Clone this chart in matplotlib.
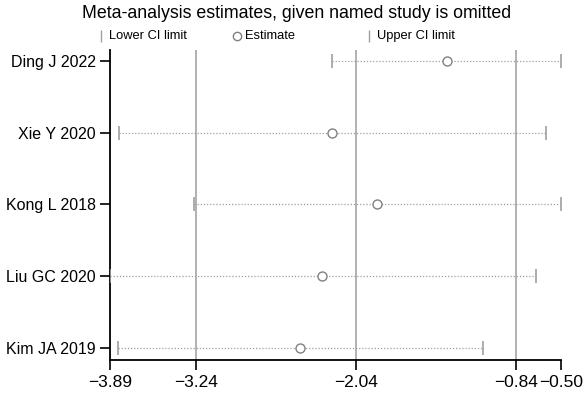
import matplotlib
matplotlib.use('Agg')
import matplotlib.pyplot as plt
from matplotlib.lines import Line2D

plt.rcParams['font.family'] = ['Liberation Sans', 'DejaVu Sans']

studies = ['Kim JA 2019', 'Liu GC 2020', 'Kong L 2018', 'Xie Y 2020', 'Ding J 2022']
estimate = [-2.46, -2.30, -1.88, -2.22, -1.36]
lower = [-3.83, -3.89, -3.26, -3.82, -2.22]
upper = [-1.09, -0.69, -0.50, -0.61, -0.50]
ref_lines = [-3.24, -2.04, -0.84]
xticks = [-3.89, -3.24, -2.04, -0.84, -0.50]
legend_labels = ['Lower CI limit', 'Estimate', 'Upper CI limit']

W, H = 586, 394
fig = plt.figure(figsize=(W / 100, H / 100), dpi=100)
ax = fig.add_axes([110 / W, 1 - 360 / H, 451 / W, 310 / H])

ypos = list(range(1, len(studies) + 1))

for x in ref_lines:
    ax.axvline(x, color='#ababab', lw=1.3, zorder=1)

for y, lo, up in zip(ypos, lower, upper):
    ax.plot([lo, up], [y, y], color='#a0a0a0', lw=0.9, ls=(0, (1, 1.5)), zorder=2)
ax.scatter(lower, ypos, marker='|', s=90, color='#a0a0a0', linewidths=1.2, zorder=3)
ax.scatter(upper, ypos, marker='|', s=90, color='#a0a0a0', linewidths=1.2, zorder=3)
ax.scatter(estimate, ypos, marker='o', s=42, facecolors='white', edgecolors='#808080',
           linewidths=1.0, zorder=4)

ax.set_xlim(-3.89, -0.50)
ax.set_ylim(0.83, 5.15)
ax.set_xticks(xticks)
ax.set_xticklabels([('%.2f' % v).replace('-', '\u2212') for v in xticks], fontsize=12.5)
ax.set_yticks(ypos)
ax.set_yticklabels(studies, fontsize=11.5)
ax.tick_params(axis='x', length=7, width=1.2, pad=4)
ax.tick_params(axis='y', length=7, width=1.2, pad=3)
for side in ['top', 'right']:
    ax.spines[side].set_visible(False)
for side in ['left', 'bottom']:
    ax.spines[side].set_linewidth(1.3)

# legend row, placed by hand
leg_y = 1 - 36 / H
marker_x = [101, 237, 369]
styles = [dict(marker='|', color='#a0a0a0', markersize=8),
          dict(marker='o', markerfacecolor='white', markeredgecolor='#808080', markersize=6),
          dict(marker='|', color='#a0a0a0', markersize=8)]
for mx, st, lab in zip(marker_x, styles, legend_labels):
    fig.add_artist(Line2D([mx / W], [leg_y], ls='none', transform=fig.transFigure, **st))
    fig.text((mx + 8) / W, leg_y, lab, fontsize=9.3, va='center', ha='left')

fig.text(0.5 + 4 / W, 1 - 13 / H, 'Meta-analysis estimates, given named study is omitted',
         fontsize=12.8, ha='center', va='center')

fig.savefig('out.png', dpi=100)
